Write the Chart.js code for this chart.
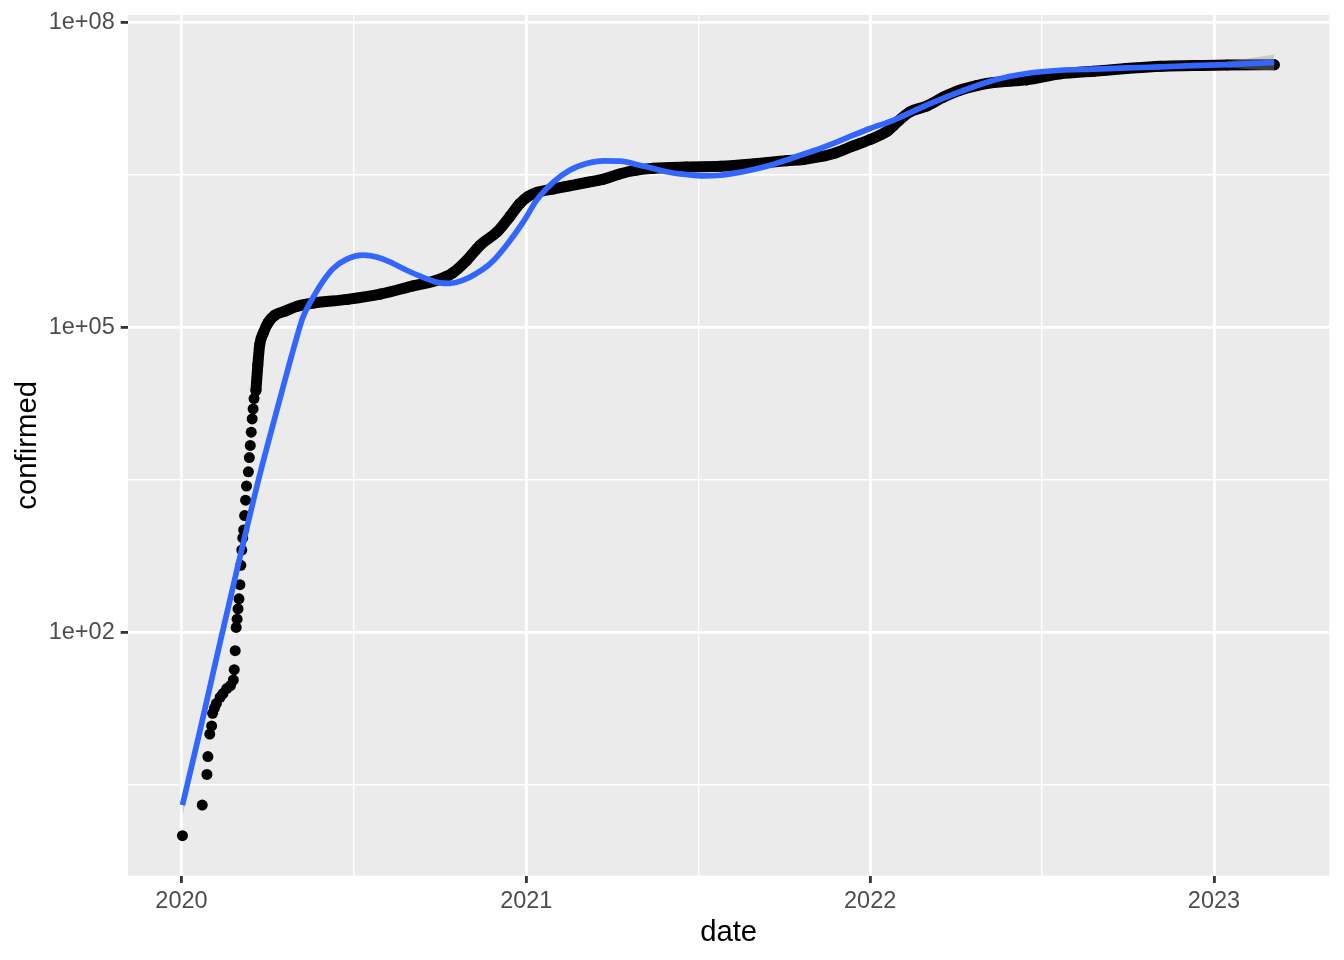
<!DOCTYPE html>
<html>
<head>
<meta charset="utf-8">
<title>confirmed</title>
<script src="https://cdn.jsdelivr.net/npm/chart.js@4.4.1/dist/chart.umd.min.js"></script>
<style>
  html, body { margin: 0; padding: 0; background: #ffffff; }
  canvas { display: block; }
</style>
</head>
<body>
<canvas id="confirmedChart" width="1344" height="960"></canvas>
<script>
// x = days since 2020-01-01
const pointDays = [
  1, 22, 27, 28, 30, 32, 33, 35, 37, 41, 44, 48, 52, 55, 56, 57, 58,
  59, 60, 61, 62, 63, 64, 65, 66, 67, 68, 69, 71, 72, 73, 74, 75, 76, 77,
  79, 81, 83, 87, 92, 99, 110, 123, 140, 176, 211, 246, 271, 288, 303, 317,
  335, 349, 359, 368, 377, 395, 412, 430, 448, 465, 483, 501, 536, 572, 607, 642,
  660, 678, 695, 713, 731, 749, 756, 773, 791, 809, 826, 844, 862, 897, 933,
  968, 1003, 1039, 1074, 1110, 1160
];
const pointValues = [
  1, 2, 4, 6, 10, 12, 16, 18, 20, 23, 25, 28, 30, 34, 43, 66, 112,
  135, 170, 214, 295, 457, 646, 851, 1020, 1410, 2000, 2750, 3800, 5250, 6920, 9330, 12600, 15800, 20000,
  24000, 42700, 67600, 89100, 112000, 132000, 145000, 162000, 174000, 189000, 213000, 257000, 292000, 345000, 460000, 646000,
  871000, 1250000, 1650000, 1950000, 2130000, 2310000, 2480000, 2670000, 2880000, 3240000, 3530000, 3690000, 3800000, 3860000, 4070000, 4370000,
  4500000, 4790000, 5250000, 6120000, 7080000, 8510000, 9770000, 13200000, 15100000, 18500000, 21600000, 24000000, 25700000, 27300000, 31300000,
  33200000, 35300000, 37200000, 37800000, 38300000, 38400000
];
// from this day on the daily points overlap into one solid band
const bandFromDay = 79;

// loess smooth
const smoothDays = [
  1, 20, 41, 62, 83, 105, 119, 129, 140, 151, 161, 175, 193, 207, 221, 239, 257, 274, 285, 299,
  313, 328, 345, 363, 377, 395, 412, 430, 448, 466, 483, 501, 519, 536, 554, 572, 589, 607, 625, 642,
  660, 678, 696, 713, 731, 756, 791, 826, 862, 897, 933, 968, 1003, 1039, 1074, 1110, 1160
];
const smoothValues = [
  2.0, 11.2, 80.4, 551, 3530, 20700, 62200, 127000, 200000, 292000, 381000, 468000, 515000, 495000, 443000, 366000, 310000, 275000, 272000, 292000,
  340000, 427000, 646000, 1100000, 1790000, 2710000, 3530000, 4100000, 4360000, 4330000, 4020000, 3660000, 3350000, 3200000, 3100000, 3150000, 3320000, 3590000, 3950000, 4430000,
  5070000, 5770000, 6700000, 7800000, 9080000, 11000000, 15400000, 20800000, 27100000, 31600000, 34000000, 34800000, 35800000, 36600000, 37800000, 38600000, 40500000
];
// confidence band, only visible at both ends of the smooth
const ribbonDays = [1, 8, 16, 1110, 1135, 1160];
const ribbonLow = [1.52, 3.21, 7.18, 36100000, 34800000, 33700000];
const ribbonHigh = [2.64, 4.44, 8.43, 41400000, 44900000, 48600000];

const yearLabels = ['2020', '2021', '2022', '2023'];
const yearDays = [0, 366, 731, 1096];
const yMajorValues = [1e2, 1e5, 1e8];
const yMajorLabels = ['1e+02', '1e+05', '1e+08'];

const FONT = '"Liberation Sans", Arial, Helvetica, sans-serif';

const xMinor = yearDays.slice(1).map((d, i) => (d + yearDays[i]) / 2);
const xTicks = yearDays.concat(xMinor).sort((a, b) => a - b);
const yMinor = yMajorValues.map(v => v / Math.pow(10, 1.5));
const yTicks = yMajorValues.concat(yMinor).sort((a, b) => a - b);

const isXMajor = v => yearDays.indexOf(v) >= 0;
const yMajorIndex = v => yMajorValues.findIndex(m => Math.abs(Math.log10(v) - Math.log10(m)) < 1e-6);

const toXY = (days, vals) => days.map((d, i) => ({ x: d, y: vals[i] }));
// break the ribbon where it is hidden under the line
const withGaps = pts => pts.reduce((out, p, i) => {
  if (i > 0 && p.x - pts[i - 1].x > 100) out.push({ x: (p.x + pts[i - 1].x) / 2, y: null });
  out.push(p);
  return out;
}, []);

const allPoints = toXY(pointDays, pointValues);
const earlyPoints = allPoints.filter(p => p.x < bandFromDay);
const bandPoints = allPoints.filter(p => p.x >= bandFromDay);

/* panel background, grey92 like ggplot */
const panelBg = {
  id: 'panelBg',
  beforeDraw(chart) {
    const { ctx, chartArea: a } = chart;
    ctx.save();
    ctx.fillStyle = '#EBEBEB';
    ctx.fillRect(a.left, a.top, a.right - a.left, a.bottom - a.top);
    ctx.restore();
  }
};

new Chart(document.getElementById('confirmedChart'), {
  type: 'scatter',
  data: {
    datasets: [
      {
        label: 'smooth',
        data: toXY(smoothDays, smoothValues),
        showLine: true,
        borderColor: '#3366FF',
        borderWidth: 5.7,
        pointRadius: 0,
        cubicInterpolationMode: 'monotone',
        order: 0
      },
      {
        label: 'se high',
        data: withGaps(toXY(ribbonDays, ribbonHigh)),
        showLine: true,
        spanGaps: false,
        borderWidth: 0,
        borderColor: 'rgba(0,0,0,0)',
        pointRadius: 0,
        backgroundColor: 'rgba(153,153,153,0.4)',
        fill: '+1',
        order: 1
      },
      {
        label: 'se low',
        data: withGaps(toXY(ribbonDays, ribbonLow)),
        showLine: true,
        spanGaps: false,
        borderWidth: 0,
        borderColor: 'rgba(0,0,0,0)',
        pointRadius: 0,
        order: 2
      },
      {
        label: 'confirmed',
        data: bandPoints,
        showLine: true,
        borderColor: '#000000',
        borderWidth: 11,
        borderCapStyle: 'round',
        borderJoinStyle: 'round',
        cubicInterpolationMode: 'monotone',
        pointRadius: 5.5,
        pointBorderWidth: 0,
        pointBackgroundColor: '#000000',
        order: 3
      },
      {
        label: 'confirmed early',
        data: earlyPoints,
        showLine: false,
        pointRadius: 5.5,
        pointBorderWidth: 0,
        pointBackgroundColor: '#000000',
        order: 4
      }
    ]
  },
  options: {
    responsive: false,
    devicePixelRatio: 1,
    animation: false,
    events: [],
    layout: { padding: { top: 15, right: 14.7, left: 0, bottom: 0 } },
    plugins: {
      legend: { display: false },
      tooltip: { enabled: false }
    },
    scales: {
      x: {
        type: 'linear',
        min: -56.8,
        max: 1218.4,
        afterBuildTicks: s => { s.ticks = xTicks.map(v => ({ value: v })); },
        afterFit: s => { s.height = 84.3; s.paddingLeft = 0; s.paddingRight = 0; },
        border: { display: false },
        grid: {
          color: '#FFFFFF',
          lineWidth: c => isXMajor(c.tick.value) ? 2.8 : 1.4,
          tickLength: 7.3,
          tickWidth: 2.8,
          tickColor: c => isXMajor(c.tick.value) ? '#333333' : 'rgba(0,0,0,0)'
        },
        ticks: {
          autoSkip: false,
          maxRotation: 0,
          padding: 4,
          color: '#4D4D4D',
          font: { family: FONT, size: 23.5 },
          callback: v => {
            const i = yearDays.indexOf(v);
            return i >= 0 ? yearLabels[i] : '';
          }
        },
        title: {
          display: true,
          text: 'date',
          color: '#000000',
          font: { family: FONT, size: 29.3 },
          padding: { top: 0, bottom: 9.4 }
        }
      },
      y: {
        type: 'logarithmic',
        min: 0.4036,
        max: 1.188e8,
        afterBuildTicks: s => { s.ticks = yTicks.map(v => ({ value: v })); },
        afterFit: s => { s.width = 128; s.paddingTop = 0; s.paddingBottom = 0; },
        border: { display: false },
        grid: {
          color: '#FFFFFF',
          lineWidth: c => yMajorIndex(c.tick.value) >= 0 ? 2.8 : 1.4,
          tickLength: 7.3,
          tickWidth: 2.8,
          tickColor: c => yMajorIndex(c.tick.value) >= 0 ? '#333333' : 'rgba(0,0,0,0)'
        },
        ticks: {
          autoSkip: false,
          padding: 6,
          color: '#4D4D4D',
          font: { family: FONT, size: 23.5 },
          callback: v => {
            const i = yMajorIndex(v);
            return i >= 0 ? yMajorLabels[i] : '';
          }
        },
        title: {
          display: true,
          text: 'confirmed',
          color: '#000000',
          font: { family: FONT, size: 29.3 },
          padding: { top: 10.4, bottom: 0 }
        }
      }
    }
  },
  plugins: [panelBg]
});
</script>
</body>
</html>
